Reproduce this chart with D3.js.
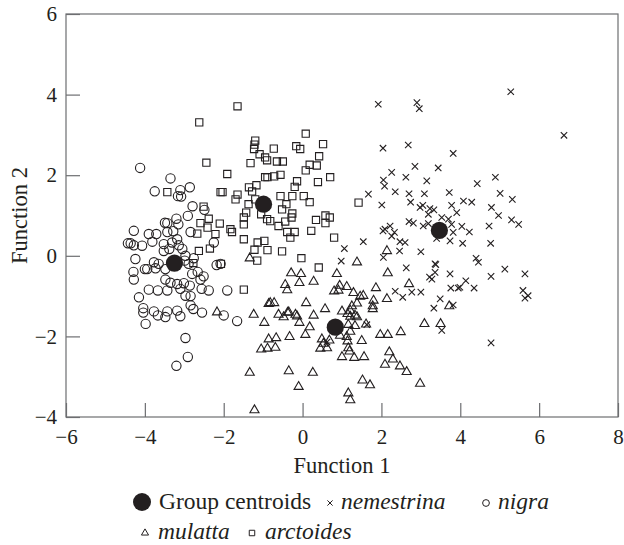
<!DOCTYPE html>
<html>
<head>
<meta charset="utf-8">
<script src="https://cdn.jsdelivr.net/npm/d3@7"></script>
<style>
  html, body { margin: 0; padding: 0; background: #fff; }
  svg text { font-family: "Liberation Serif", "DejaVu Serif", serif; fill: #231f20; }
</style>
</head>
<body>
<svg id="chart" width="624" height="545"></svg>
<script>
// discriminant function scores [function 1, function 2]
const nemestrina = [
  [1.92,3.76],[2.90,3.80],[2.96,3.65],[2.04,2.67],[2.68,2.75],[2.85,2.22],[2.26,2.07],[2.62,1.95],
  [3.15,1.86],[2.05,1.88],[2.08,1.73],[1.67,1.53],[2.35,1.59],[2.70,1.54],[3.09,1.54],[5.28,4.07],
  [6.63,2.99],[3.82,2.54],[3.44,2.18],[4.89,1.95],[4.43,1.79],[3.72,1.57],[5.01,1.55],[5.32,1.40],
  [4.08,1.36],[4.29,1.33],[2.01,1.26],[2.74,1.33],[2.98,1.20],[3.05,1.25],[3.19,1.03],[3.33,1.14],
  [3.23,1.17],[3.78,1.25],[3.91,1.07],[4.79,1.20],[4.97,1.00],[3.53,0.95],[3.70,0.91],[3.78,0.78],
  [5.30,0.89],[5.48,0.78],[2.70,0.85],[2.81,0.81],[3.06,0.74],[3.19,0.80],[2.04,0.62],[2.22,0.74],
  [2.33,0.58],[2.26,0.49],[2.09,0.66],[2.47,0.35],[2.60,0.33],[1.54,0.35],[1.06,0.18],[2.46,0.12],
  [3.00,0.10],[2.05,-0.04],[0.98,-0.13],[2.63,-0.30],[3.22,-0.53],[2.35,-0.88],[2.54,-1.03],[2.77,-0.90],
  [3.00,-0.90],[3.82,0.58],[4.04,0.73],[4.23,0.59],[4.73,0.74],[3.40,0.43],[3.74,0.37],[4.06,0.31],
  [4.77,0.31],[3.36,-0.20],[3.38,-0.22],[4.40,-0.06],[4.46,-0.16],[5.13,-0.33],[5.64,-0.45],[3.36,-0.41],
  [3.28,-0.58],[3.74,-0.45],[4.78,-0.51],[4.14,-0.62],[3.99,-0.78],[3.95,-0.80],[3.76,-0.80],[4.35,-0.80],
  [5.59,-0.86],[5.72,-0.99],[5.64,-1.05],[3.49,-1.07],[3.33,-1.30],[3.82,-1.22],[3.53,-1.85],[4.78,-2.16],
  [1.63,-1.71],[0.62,-2.14]
]
const nigra = [
  [-4.12,2.18],[-3.35,1.92],[-3.75,1.60],[-3.10,1.63],[-2.86,1.70],[-3.16,1.48],[-3.08,1.47],[-2.79,1.23],
  [-2.49,1.14],[-2.91,0.99],[-2.25,0.33],[-2.84,0.59],[-4.28,0.62],[-4.43,0.31],[-4.36,0.31],[-4.28,0.26],
  [-4.07,0.25],[-3.90,0.54],[-3.71,0.54],[-3.81,0.35],[-3.49,0.82],[-3.43,0.81],[-3.15,0.78],[-3.20,0.92],
  [-3.43,0.59],[-3.28,0.61],[-3.52,0.29],[-3.31,0.33],[-3.18,0.41],[-3.14,0.26],[-3.52,0.12],[-3.38,0.17],
  [-3.05,0.17],[-2.97,0.00],[-2.99,-0.12],[-4.24,-0.08],[-3.77,-0.16],[-3.65,-0.20],[-3.94,-0.33],[-4.00,-0.33],
  [-3.73,-0.31],[-3.48,-0.33],[-4.29,-0.40],[-4.28,-0.59],[-2.89,-0.20],[-2.76,-0.06],[-2.80,-0.45],[-2.66,-0.40],
  [-2.51,-0.51],[-3.48,-0.59],[-3.35,-0.67],[-3.18,-0.70],[-3.01,-0.68],[-2.86,-0.74],[-2.59,-0.59],[-2.56,-0.82],
  [-2.38,-0.86],[-2.18,-0.23],[-2.08,-0.20],[-3.90,-0.84],[-3.67,-0.86],[-3.43,-0.86],[-3.10,-0.82],[-2.97,-0.99],
  [-2.84,-1.00],[-1.91,-0.86],[-4.15,-1.03],[-2.84,-1.23],[-4.04,-1.30],[-3.77,-1.38],[-3.43,-1.38],[-3.18,-1.36],
  [-3.10,-1.50],[-2.00,-1.48],[-4.04,-1.41],[-3.67,-1.48],[-3.48,-1.52],[-2.77,-1.32],[-2.55,-1.41],[-3.98,-1.69],
  [-1.66,-1.62],[-2.97,-2.04],[-2.91,-2.51],[-3.20,-2.73]
]
const mulatta = [
  [-1.34,-0.06],[-2.17,-1.40],[-1.24,-1.46],[-0.86,-1.19],[-0.97,-1.66],[-0.86,-2.07],[-1.05,-2.32],[-0.89,-2.30],
  [-1.34,-2.90],[-1.22,-3.83],[2.14,0.12],[1.38,-0.16],[0.87,-0.45],[2.16,-0.43],[-0.29,-0.43],[-0.04,-0.45],
  [-0.44,-0.72],[-0.39,-0.85],[-0.08,-0.67],[0.28,-0.64],[0.94,-0.74],[0.80,-0.88],[0.91,-0.86],[1.12,-0.77],
  [1.86,-0.80],[2.70,-0.70],[1.29,-0.92],[-0.82,-1.17],[-0.72,-1.17],[0.09,-1.17],[1.46,-1.01],[1.54,-0.99],
  [1.80,-1.11],[1.78,-1.25],[2.14,-1.07],[1.38,-1.18],[1.25,-1.25],[0.57,-1.32],[-0.61,-1.46],[-0.38,-1.41],
  [-0.18,-1.46],[-0.14,-1.50],[0.28,-1.48],[1.00,-1.38],[1.14,-1.44],[1.21,-1.51],[1.33,-1.48],[-0.48,-1.52],
  [-0.35,-1.40],[-0.08,-1.66],[0.18,-1.77],[0.07,-1.96],[-0.33,-2.01],[-0.67,-2.04],[-0.69,-2.28],[1.38,-1.52],
  [1.21,-1.36],[1.78,-1.32],[1.16,-1.71],[1.33,-1.74],[1.21,-1.88],[1.61,-1.70],[1.12,-2.01],[1.14,-2.12],
  [0.95,-1.98],[0.49,-2.07],[0.53,-2.18],[0.45,-2.30],[0.62,-2.29],[0.68,-2.10],[1.50,-2.11],[1.16,-2.29],
  [1.19,-2.37],[1.00,-2.51],[1.31,-2.53],[1.56,-2.51],[1.97,-1.96],[2.16,-1.96],[2.49,-1.89],[3.09,-1.69],
  [2.20,-2.39],[2.29,-2.57],[2.09,-2.70],[2.47,-2.74],[2.64,-2.88],[-0.35,-2.86],[0.26,-2.90],[-0.10,-3.25],
  [1.52,-3.09],[1.71,-3.21],[2.98,-3.17],[1.16,-3.41],[1.21,-3.58],[3.50,-1.69],[3.72,-1.25]
]
const arctoides = [
  [-1.65,3.71],[-2.62,3.31],[-1.20,2.86],[-1.22,2.76],[-1.23,2.65],[-1.09,2.52],[-0.95,2.44],[-0.90,2.37],
  [-2.44,2.31],[-1.32,2.30],[-1.91,2.03],[-0.95,1.95],[-0.89,1.95],[-3.43,1.58],[-2.08,1.58],[-2.03,1.58],
  [-1.36,1.70],[-1.17,1.75],[-1.28,1.60],[-1.65,1.52],[0.08,3.03],[0.52,2.77],[-0.73,2.66],[-0.16,2.72],
  [-0.06,2.65],[0.42,2.47],[-0.65,2.34],[-0.50,2.34],[0.18,2.26],[0.36,2.24],[0.08,2.12],[-0.72,1.97],
  [-0.56,2.01],[0.70,1.95],[-0.14,1.85],[-0.20,1.71],[0.39,1.83],[-0.56,1.48],[-0.26,1.48],[0.03,1.48],
  [-1.70,1.40],[-1.37,1.28],[-1.20,1.40],[-1.43,1.07],[-1.49,0.95],[-1.49,0.78],[-1.05,1.03],[-0.90,0.91],
  [-2.51,1.22],[-2.59,0.81],[-2.38,0.92],[-2.41,0.70],[-2.10,0.80],[-1.83,0.66],[-1.79,0.59],[-2.21,0.54],
  [-2.67,0.55],[-1.49,0.41],[-1.14,0.33],[-0.97,0.37],[-0.89,0.14],[-1.22,0.15],[-1.15,-0.12],[-2.35,0.18],
  [-2.63,0.12],[-2.07,-0.20],[-2.77,-0.18],[-1.49,-0.84],[0.18,1.33],[-0.41,1.28],[-0.52,1.15],[-0.26,1.05],
  [-0.28,0.95],[1.42,1.32],[-0.61,0.74],[-0.39,0.59],[-0.20,0.59],[-0.31,0.45],[-0.44,0.85],[0.34,0.89],
  [0.58,1.00],[0.69,0.95],[0.58,0.81],[0.22,0.62],[0.80,0.45],[-0.52,0.11],[-0.03,-0.06],[0.41,-0.29],
  [-0.82,0.86]
]
// group centroids: nigra, arctoides, mulatta, nemestrina
const centroids = [[-3.25,-0.18],[-0.99,1.28],[0.83,-1.77],[3.47,0.63]]

const xTicks = [-6, -4, -2, 0, 2, 4, 6, 8]
const yTicks = [-4, -2, 0, 2, 4, 6]

const ink = '#231f20'
const margin = { top: 14, right: 6, bottom: 128, left: 66 }
const width = 624 - margin.left - margin.right
const height = 545 - margin.top - margin.bottom

const svg = d3.select('#chart')
const g = svg.append('g').attr('transform', `translate(${margin.left},${margin.top})`)

const x = d3.scaleLinear().domain([-6, 8]).range([0, width])
const y = d3.scaleLinear().domain([-4, 6]).range([height, 0])

const fmt = d => (d < 0 ? '\u2212' + Math.abs(d) : String(d))

// frame
g.append('rect')
  .attr('width', width).attr('height', height)
  .attr('fill', 'none').attr('stroke', '#6d6e71').attr('stroke-width', 1.2)

const xAxis = g.append('g')
  .attr('transform', `translate(0,${height})`)
  .call(d3.axisBottom(x).tickValues(xTicks).tickFormat(fmt).tickSize(-14).tickPadding(12))
const yAxis = g.append('g')
  .call(d3.axisLeft(y).tickValues(yTicks).tickFormat(fmt).tickSize(-14).tickPadding(9))

;[xAxis, yAxis].forEach(a => {
  a.select('.domain').remove()
  a.selectAll('line').attr('stroke', '#6d6e71').attr('stroke-width', 1.2)
  a.selectAll('text').attr('font-size', 21).attr('font-family', '"Liberation Serif", serif').attr('fill', ink)
})

g.append('text')
  .attr('x', width / 2).attr('y', height + 56)
  .attr('text-anchor', 'middle').attr('font-size', 22.5)
  .text('Function 1')

g.append('text')
  .attr('transform', `translate(${-39},${height / 2}) rotate(-90)`)
  .attr('text-anchor', 'middle').attr('font-size', 22.5)
  .text('Function 2')

// markers
const sym = (type, size) => d3.symbol().type(type).size(size)
const crossPath = s => `M${-s},${-s}L${s},${s}M${-s},${s}L${s},${-s}`

const pts = g.append('g').attr('fill', 'none').attr('stroke', ink).attr('stroke-width', 1.1)

pts.selectAll('.nigra').data(nigra).join('path')
  .attr('class', 'nigra')
  .attr('d', sym(d3.symbolCircle, 68)())
  .attr('transform', d => `translate(${x(d[0])},${y(d[1])})`)

pts.selectAll('.arctoides').data(arctoides).join('path')
  .attr('class', 'arctoides')
  .attr('d', sym(d3.symbolSquare, 52)())
  .attr('transform', d => `translate(${x(d[0])},${y(d[1])})`)

pts.selectAll('.mulatta').data(mulatta).join('path')
  .attr('class', 'mulatta')
  .attr('d', sym(d3.symbolTriangle, 36)())
  .attr('transform', d => `translate(${x(d[0])},${y(d[1])})`)

pts.selectAll('.nemestrina').data(nemestrina).join('path')
  .attr('class', 'nemestrina')
  .attr('d', crossPath(3.2))
  .attr('transform', d => `translate(${x(d[0])},${y(d[1])})`)

g.append('g').selectAll('circle').data(centroids).join('circle')
  .attr('cx', d => x(d[0])).attr('cy', d => y(d[1]))
  .attr('r', 8.6).attr('fill', ink)

// legend
const legend = svg.append('g')
const row1 = 509, row2 = 539
const lsize = 23.5

const italic = (px, py, label) => legend.append('text')
  .attr('x', px).attr('y', py)
  .attr('font-size', lsize).attr('font-style', 'italic')
  .text(label)

legend.append('circle').attr('cx', 142).attr('cy', row1 - 7).attr('r', 9).attr('fill', ink)
legend.append('text').attr('x', 159).attr('y', row1).attr('font-size', lsize).text('Group centroids')

legend.append('path').attr('d', crossPath(2.6))
  .attr('transform', `translate(330,${row1 - 6})`).attr('stroke', ink).attr('stroke-width', 1)
italic(341, row1, 'nemestrina')

legend.append('path').attr('d', sym(d3.symbolCircle, 36)())
  .attr('transform', `translate(486,${row1 - 6})`).attr('fill', 'none').attr('stroke', ink).attr('stroke-width', 1)
italic(498, row1, 'nigra')

legend.append('path').attr('d', sym(d3.symbolTriangle, 22)())
  .attr('transform', `translate(145,${row2 - 6})`).attr('fill', 'none').attr('stroke', ink).attr('stroke-width', 1)
italic(158, row2, 'mulatta')

legend.append('path').attr('d', sym(d3.symbolSquare, 30)())
  .attr('transform', `translate(252,${row2 - 6})`).attr('fill', 'none').attr('stroke', ink).attr('stroke-width', 1)
italic(265, row2, 'arctoides')
</script>
</body>
</html>
